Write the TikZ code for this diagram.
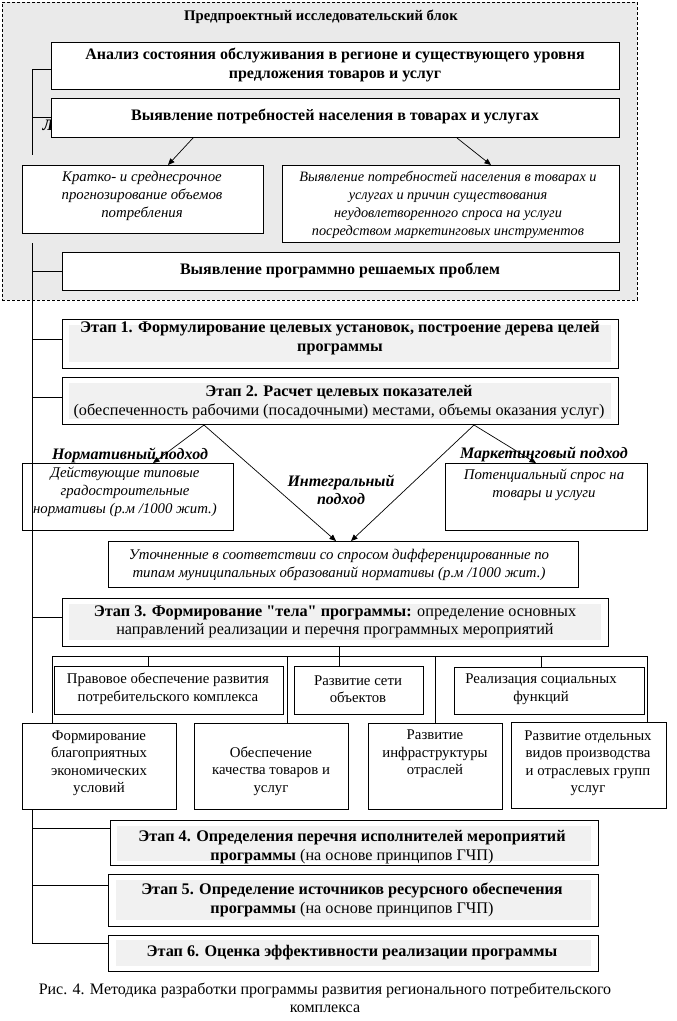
\documentclass[tikz,border=0pt]{standalone}
\usepackage{fontspec}
\setmainfont{Liberation Serif}[Ligatures=TeXOff]
\usetikzlibrary{arrows.meta}
\definecolor{blockgray}{RGB}{234,234,234}
\definecolor{stagegray}{RGB}{241,241,241}
\tikzset{
  bx/.style={draw=black, line width=1pt, fill=white, inner sep=0pt, anchor=north west},
  gbg/.style={fill=stagegray, draw=none, inner sep=0pt, anchor=north west},
  tx/.style={font=\fontsize{16.2}{18.5}\selectfont, align=center, inner sep=0pt},
  txt/.style={font=\fontsize{14.8}{17.5}\selectfont, align=center, inner sep=0pt},
  txb/.style={tx, font=\fontsize{16.2}{18.5}\selectfont\bfseries},
  txi/.style={tx, font=\fontsize{14.8}{18}\selectfont\itshape},
  txbi/.style={tx, font=\fontsize{16}{18.5}\selectfont\bfseries\itshape},
  ln/.style={line width=1pt},
  arr/.style={line width=0.7pt, -{Triangle[length=6.5pt,width=5.5pt]}},
}
\newcommand\mkbox[5]{\node[bx, minimum width=#4pt, minimum height=#5pt] (#1) at (#2,#3) {};}
\newcommand\mkgray[5]{\node[gbg, minimum width=#4pt, minimum height=#5pt] (#1) at (#2,#3) {};}
\begin{document}
\begin{tikzpicture}[x=1pt,y=-1pt]
\fill[white] (0,0) rectangle (677,1021);
\useasboundingbox (0,0) rectangle (677,1021);

% pre-project block
\node[draw=black, line width=0.8pt, dash pattern=on 3pt off 2pt, fill=blockgray,
      inner sep=0pt, anchor=north west, minimum width=635pt, minimum height=298pt] (blk) at (2,2) {};
\node[txb, font=\fontsize{14.7}{17}\selectfont\bfseries] (blkt) at (321,17) {Предпроектный исследовательский блок};

\mkbox{a}{51}{42}{568}{47}
\node[txb, font=\fontsize{16}{18.5}\selectfont\bfseries] (at) at (335,65) {Анализ состояния обслуживания в регионе и существующего уровня\\предложения товаров и услуг};
\node[txbi] (lhid) at (48,125) {Л};
\mkbox{b}{51}{98}{568}{39}
\node[txb, font=\fontsize{16}{18.5}\selectfont\bfseries] (bt) at (335,116) {Выявление потребностей населения в товарах и услугах};

\mkbox{c}{22}{165}{241}{68}
\node[txi] (ct) at (142,196) {Кратко- и среднесрочное\\прогнозирование объемов\\потребления};
\mkbox{d}{282}{165}{337}{77}
\node[txi, font=\fontsize{14.3}{18}\selectfont\itshape] (dt) at (448,205) {Выявление потребностей населения в товарах и\\услугах и причин существования\\неудовлетворенного спроса на услуги\\посредством маркетинговых инструментов};

\mkbox{e}{62}{252}{557}{38}
\node[txb, font=\fontsize{16}{18.5}\selectfont\bfseries] (et) at (340,270) {Выявление программно решаемых проблем};

\draw[arr] ([xshift=142pt]b.south west) -- ([xshift=146pt]c.north west);
\draw[arr] ([xshift=406pt]b.south west) -- ([xshift=209pt]d.north west);

% stage 1, 2
\mkbox{s1}{62}{319}{556}{49}
\mkgray{g1}{69}{325}{542}{37}
\node[txb] (s1t) at (340,338) {Этап 1. Формулирование целевых установок, построение дерева целей\\программы};
\mkbox{s2}{62}{377}{556}{47}
\mkgray{g2}{69}{383}{542}{36}
\node[tx] (s2t) at (339,402) {\textbf{Этап 2. Расчет целевых показателей}\\(обеспеченность рабочими (посадочными) местами, объемы оказания услуг)};

% approaches
\mkbox{dn}{22}{463}{211}{67}
\node[txi] (dnt) at (125,492) {Действующие типовые\\градостроительные\\нормативы (р.м /1000 жит.)};
\mkbox{pt}{445}{463}{202}{67}
\node[txi] (ptt) at (544,485) {Потенциальный спрос на\\товары и услуги};
\mkbox{ut}{108}{541}{470}{46}
\node[txi] (utt) at (339,565) {Уточненные в соответствии со спросом дифференцированные по\\типам муниципальных образований нормативы (р.м /1000 жит.)};

\node[txbi, anchor=base] (ln1) at (130,459) {Нормативный подход};
\node[txbi, anchor=base] (ln2) at (544,458) {Маркетинговый подход};
\node[txbi] (ln3) at (341,490) {Интегральный\\подход};

\draw[arr] ([xshift=142pt]s2.south west) -- ([xshift=131pt]dn.north west);
\draw[arr] ([xshift=142pt]s2.south west) -- ([xshift=228pt]ut.north west);
\draw[arr] ([xshift=412pt]s2.south west) -- ([xshift=91pt]pt.north west);
\draw[arr] ([xshift=412pt]s2.south west) -- ([xshift=243pt]ut.north west);

% stage 3
\mkbox{s3}{62}{598}{546}{48}
\mkgray{g3}{69}{604}{532}{36}
\node[tx] (s3t) at (335,622) {\textbf{Этап 3. Формирование "тела" программы:} определение основных\\направлений реализации и перечня программных мероприятий};

\mkbox{pr}{54}{666}{229}{48}
\node[txt] (prt) at (168,689) {Правовое обеспечение развития\\потребительского комплекса};
\mkbox{rs}{294}{666}{129}{48}
\node[txt] (rst) at (358,689) {Развитие сети\\объектов};
\mkbox{rz}{454}{667}{190}{47}
\node[txt] (rzt) at (541,689) {Реализация социальных\\функций};

\mkbox{fb}{22}{723}{154}{86}
\node[txt] (fbt) at (99,763) {Формирование\\благоприятных\\экономических\\условий};
\mkbox{ob}{194}{723}{154}{86}
\node[txt] (obt) at (271,771) {Обеспечение\\качества товаров и\\услуг};
\mkbox{ri}{368}{723}{134}{86}
\node[txt] (rit) at (435,754) {Развитие\\инфраструктуры\\отраслей};
\mkbox{ro}{511}{722}{155}{86}
\node[txt] (rot) at (588,763) {Развитие отдельных\\видов производства\\и отраслевых групп\\услуг};

\coordinate (busL) at (52,656);
\coordinate (busR) at (647,656);
\coordinate (d2) at (148,656);
\coordinate (d3) at (287,656);
\coordinate (d4) at (435,656);
\coordinate (d5) at (541,656);
\draw[ln] (busL) -- (busR);
\draw[ln] ([xshift=277pt]s3.south west) -- ([xshift=45pt]rs.north west);
\draw[ln] (busL) -- (busL |- fb.north);
\draw[ln] (d2) -- (d2 |- pr.north);
\draw[ln] (d3) -- (d3 |- ob.north);
\draw[ln] (d4) -- (d4 |- ri.north);
\draw[ln] (d5) -- (d5 |- rz.north);
\draw[ln] (busR) -- (busR |- ro.north);

% stages 4-6
\mkbox{s4}{110}{820}{488}{45}
\mkgray{g4}{117}{826}{474}{35}
\node[tx] (s4t) at (352,847) {\textbf{Этап 4. Определения перечня исполнителей мероприятий}\\\textbf{программы} (на основе принципов ГЧП)};
\mkbox{s5}{108}{874}{490}{52}
\mkgray{g5}{116}{880}{475}{40}
\node[tx] (s5t) at (352,900) {\textbf{Этап 5. Определение источников ресурсного обеспечения}\\\textbf{программы} (на основе принципов ГЧП)};
\mkbox{s6}{108}{935}{490}{36}
\mkgray{g6}{116}{940}{475}{26}
\node[txb] (s6t) at (352,953) {Этап 6. Оценка эффективности реализации программы};

% left spine
\coordinate (sp0) at (32,69);
\coordinate (sp0b) at (32,117);
\coordinate (sp0e) at (32,155);
\draw[ln] (sp0 -| a.west) -- (sp0) -- (sp0e);
\draw[ln] (sp0b) -- (sp0b -| b.west);
\coordinate (sp1) at (32,243);
\coordinate (sp1e) at (32,713);
\coordinate (te) at (32,271);
\coordinate (t1) at (32,339);
\coordinate (t2) at (32,397);
\coordinate (t3) at (32,617);
\draw[ln] (sp1) -- (sp1e);
\draw[ln] (te) -- (te -| e.west);
\draw[ln] (t1) -- (t1 -| s1.west);
\draw[ln] (t2) -- (t2 -| s2.west);
\draw[ln] (t3) -- (t3 -| s3.west);
\coordinate (sp2) at (32,809);
\coordinate (t4) at (32,828);
\coordinate (t5) at (32,885);
\coordinate (t6) at (32,943);
\draw[ln] (sp2) -- (t6) -- (t6 -| s6.west);
\draw[ln] (t4) -- (t4 -| s4.west);
\draw[ln] (t5) -- (t5 -| s5.west);

% caption
\node[tx, font=\fontsize{16}{18}\selectfont] (cap) at (325,998) {Рис. 4. Методика разработки программы развития регионального потребительского\\комплекса};
\end{tikzpicture}
\end{document}
